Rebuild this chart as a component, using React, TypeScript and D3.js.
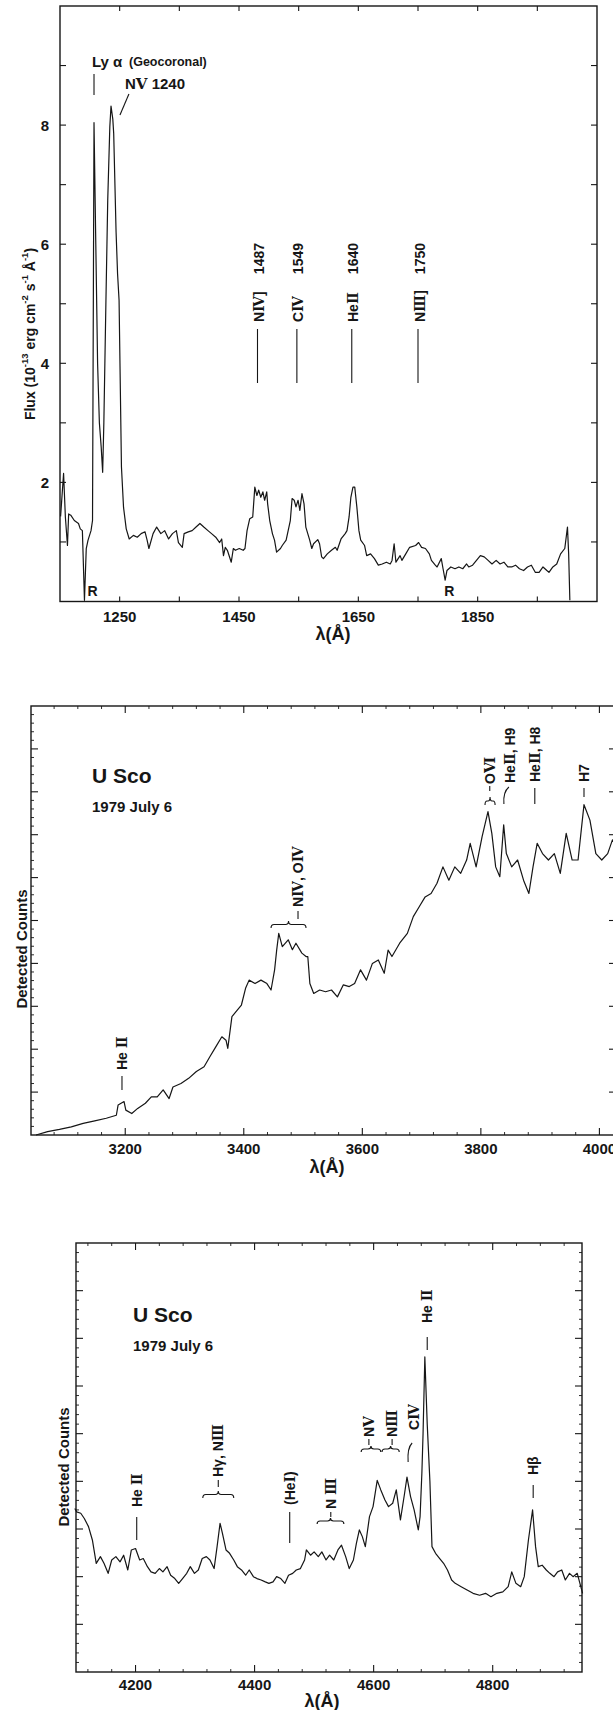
import * as d3 from "d3"

const INK = "#161616"
const SANS = "'Liberation Sans', Arial, Helvetica, sans-serif"
const SERIF = "'DejaVu Serif', serif"

// ---------- panel 1 : ultraviolet, flux in 1e-13 erg cm-2 s-1 A-1 ----------
const uvSpectrum: [number, number][] = [
  [1151, 1.43], [1156, 2.15], [1159, 1.42], [1162.5, 0.94], [1164.5, 1.47], [1168, 1.45], [1174, 1.36],
  [1181, 1.31], [1184, 1.22], [1187.5, 1.19], [1191, 0.02], [1194, 0.89], [1197, 1.03], [1202, 1.19],
  [1204.5, 1.36], [1207, 8.04], [1210, 6.0], [1213, 4.0], [1216, 3.0], [1219, 2.6], [1221.5, 2.17],
  [1223.5, 3.0], [1227, 5.06], [1230, 6.74], [1233.5, 7.97], [1235.5, 8.32], [1238.5, 8.1], [1240, 7.86],
  [1244, 6.2], [1246.5, 5.5], [1249, 5.06], [1253, 2.26], [1256.5, 1.58], [1261, 1.22], [1266, 1.05],
  [1273, 1.11], [1279.5, 1.08], [1286, 1.14], [1292.5, 1.17], [1296, 1.03], [1299, 0.89], [1306, 1.14],
  [1312, 1.25], [1319, 1.14], [1325.5, 1.19], [1332, 1.05], [1338.5, 1.14], [1345, 1.19], [1348.5, 0.99],
  [1355, 0.91], [1358, 1.14], [1365, 1.17], [1371.5, 1.19], [1378, 1.25], [1384.5, 1.31], [1391, 1.25],
  [1398, 1.19], [1404, 1.14], [1411, 1.08], [1417.5, 0.99], [1421, 1.05], [1424, 0.77], [1427, 0.91],
  [1430.5, 0.86], [1437, 0.66], [1440.5, 0.89], [1444, 0.86], [1450.5, 0.89], [1457, 0.86], [1460, 0.89],
  [1463.5, 1.19], [1468, 1.39], [1473, 1.42], [1476.5, 1.92], [1480, 1.78], [1483, 1.87], [1486.5, 1.75],
  [1490, 1.84], [1493, 1.7], [1496.5, 1.84], [1498, 1.64], [1501.5, 1.36], [1506, 1.14], [1509.5, 1.03],
  [1513, 0.83], [1519.5, 0.89], [1522.5, 0.94], [1529, 1.03], [1536, 1.36], [1539, 1.73], [1542.5, 1.7],
  [1545.5, 1.59], [1549, 1.7], [1552, 1.53], [1555.5, 1.81], [1559, 1.64], [1562, 1.25], [1568.5, 1.03],
  [1572, 0.89], [1575, 0.97], [1582, 1.04], [1585, 0.97], [1588.5, 0.75], [1591.5, 0.72], [1598, 0.8],
  [1605, 0.86], [1611.5, 0.91], [1614.5, 0.86], [1621, 1.05], [1628, 1.14], [1631, 1.19], [1634.5, 1.42],
  [1637.5, 1.75], [1641, 1.92], [1644, 1.92], [1647.5, 1.59], [1651, 1.19], [1654, 1.03], [1660.5, 0.94],
  [1664, 0.77], [1670.5, 0.8], [1677, 0.72], [1683.5, 0.61], [1690, 0.63], [1697, 0.66], [1703.5, 0.63],
  [1706.5, 0.69], [1710, 0.97], [1713, 0.66], [1720, 0.77], [1723, 0.69], [1729.5, 0.8], [1736, 0.91],
  [1746, 0.94], [1751, 0.99], [1756, 0.91], [1762.5, 0.89], [1769, 0.8], [1772.5, 0.69], [1779, 0.61],
  [1782, 0.58], [1789, 0.72], [1792, 0.55], [1795.5, 0.36], [1798.5, 0.52], [1805, 0.58], [1812, 0.55],
  [1818.5, 0.58], [1825, 0.55], [1831.5, 0.63], [1835, 0.58], [1841.5, 0.61], [1848, 0.69], [1854.5, 0.77],
  [1861, 0.75], [1867.5, 0.69], [1874, 0.63], [1881, 0.69], [1887.5, 0.63], [1894, 0.66], [1900.5, 0.58],
  [1907, 0.58], [1913.5, 0.61], [1920, 0.55], [1927, 0.52], [1933.5, 0.58], [1940, 0.61], [1946.5, 0.49],
  [1953, 0.49], [1959.5, 0.58], [1966, 0.52], [1969.5, 0.49], [1976, 0.58], [1982.5, 0.63], [1989, 0.8],
  [1996, 0.89], [2000.5, 1.25], [2002.5, 0.8], [2004.5, 0.02],
]
const uvXTicks = [1250, 1350, 1450, 1550, 1650, 1750, 1850, 1950]
const uvXLabels = [1250, 1450, 1650, 1850]
const uvYTicks = [1, 2, 3, 4, 5, 6, 7, 8, 9]
const uvYLabels = [2, 4, 6, 8]
const uvLineLam = [1481, 1547, 1639, 1750]
const uvLineName = ["NⅣ]", "CⅣ", "HeⅡ", "NⅢ]"]
const uvLineNum = ["1487", "1549", "1640", "1750"]
const uvReseau = [1201, 1799]

// ---------- panel 2 : near ultraviolet, detected counts ----------
const nuvSpectrum: [number, number][] = [
  [3049.5, 0.0], [3069, 0.08], [3089, 0.13], [3109, 0.19], [3129, 0.27], [3148.5, 0.33], [3168, 0.39],
  [3185, 0.46], [3188, 0.7], [3198, 0.78], [3201, 0.58], [3211, 0.5], [3221, 0.62], [3234, 0.74],
  [3244, 0.89], [3254, 0.89], [3264, 1.05], [3274, 0.85], [3280.5, 1.12], [3294, 1.2], [3307, 1.32],
  [3320, 1.48], [3333, 1.59], [3343, 1.83], [3353, 2.06], [3363, 2.29], [3370, 2.21], [3373, 2.02],
  [3380, 2.76], [3389, 2.91], [3396, 3.03], [3403, 3.42], [3409, 3.61], [3419, 3.53], [3429, 3.61],
  [3439, 3.53], [3446, 3.38], [3452, 3.85], [3455.5, 4.31], [3459, 4.7], [3465, 4.39], [3475, 4.55],
  [3482, 4.32], [3488, 4.47], [3498, 4.24], [3505, 4.16], [3508, 4.16], [3511.5, 3.53], [3518, 3.3],
  [3528, 3.38], [3538, 3.34], [3548, 3.38], [3558, 3.22], [3568, 3.5], [3578, 3.46], [3587, 3.53],
  [3597, 3.85], [3607, 3.61], [3617, 4.0], [3627, 4.08], [3637, 3.77], [3643.5, 4.31], [3650, 4.16],
  [3663, 4.47], [3676, 4.7], [3686, 5.09], [3696, 5.32], [3706, 5.55], [3716, 5.63], [3726, 5.87],
  [3736, 6.25], [3746, 5.94], [3756, 6.25], [3766, 6.1], [3776, 6.41], [3782, 6.8], [3792, 6.25],
  [3802, 6.95], [3812, 7.54], [3818.5, 7.03], [3825, 6.25], [3832, 6.02], [3838.5, 7.23], [3843, 6.56],
  [3852, 6.25], [3862, 6.41], [3872, 5.94], [3881, 5.63], [3888, 6.25], [3895, 6.8], [3904, 6.56],
  [3914, 6.41], [3924, 6.56], [3934, 6.1], [3944, 7.03], [3954, 6.41], [3964, 6.41], [3974, 7.7],
  [3984, 7.34], [3994, 6.56], [4004, 6.41], [4014, 6.56], [4022, 6.88], [4030, 6.7],
]
const nuvXLabels = [3200, 3400, 3600, 3800, 4000]
const nuvLineLam = [3194.5, 3491.5, 3815, 3849, 3891, 3974]
const nuvLineName = ["He Ⅱ", "NⅣ, OⅣ", "OⅥ", "HeⅡ, H9", "HeⅡ, H8", "H7"]

// ---------- panel 3 : optical, detected counts ----------
const optSpectrum: [number, number][] = [
  [4098, 3.43], [4101, 3.36], [4108, 3.33], [4114, 3.22], [4121, 3.05], [4127.5, 2.77], [4134, 2.28],
  [4141, 2.42], [4147, 2.28], [4154, 2.07], [4160, 2.35], [4167, 2.42], [4174, 2.31], [4180, 2.45],
  [4187, 2.14], [4193, 2.56], [4200, 2.59], [4207, 2.35], [4213, 2.38], [4220, 2.21], [4226, 2.1],
  [4233, 2.07], [4240, 2.17], [4246, 2.1], [4253, 2.21], [4259, 2.03], [4266, 1.96], [4272.5, 1.86],
  [4279, 1.96], [4286, 2.07], [4292, 2.21], [4299, 2.07], [4305.5, 2.14], [4312, 2.38], [4319, 2.42],
  [4325, 2.35], [4332, 2.17], [4337, 2.63], [4342, 3.12], [4346, 2.91], [4352, 2.56], [4358, 2.49],
  [4365, 2.35], [4371, 2.21], [4378, 2.14], [4385, 2.03], [4391, 2.14], [4398, 2.0], [4404, 1.96],
  [4411, 1.93], [4418, 1.89], [4424, 1.86], [4431, 1.89], [4437, 2.0], [4444, 1.96], [4451, 1.86],
  [4457, 2.03], [4464, 2.07], [4470, 2.14], [4477, 2.17], [4484, 2.35], [4487, 2.56], [4494, 2.45],
  [4500, 2.52], [4507, 2.42], [4513, 2.52], [4520, 2.35], [4526, 2.45], [4533, 2.35], [4540, 2.56],
  [4546, 2.66], [4553, 2.42], [4559, 2.17], [4566, 2.35], [4571, 2.7], [4576, 2.98], [4581, 2.84],
  [4586, 2.63], [4593, 3.26], [4599, 3.47], [4606, 4.02], [4612, 3.82], [4619, 3.61], [4625, 3.47],
  [4632, 3.54], [4638, 3.82], [4645, 3.19], [4652, 3.75], [4656, 4.09], [4662, 3.68], [4668, 3.4],
  [4675, 2.98], [4678, 3.26], [4681, 4.17], [4683, 5.0], [4686, 6.61], [4690, 5.2], [4694.5, 4.0],
  [4698, 2.63], [4704, 2.49], [4711, 2.38], [4717.5, 2.28], [4724, 2.14], [4731, 1.93], [4737, 1.86],
  [4747, 1.79], [4757, 1.72], [4767, 1.65], [4778, 1.61], [4788, 1.65], [4797, 1.58], [4807, 1.65],
  [4817, 1.68], [4826, 1.79], [4832, 2.1], [4839, 1.86], [4847, 1.79], [4853, 2.0], [4860, 2.77],
  [4867, 3.4], [4872, 2.63], [4876.5, 2.21], [4883, 2.24], [4890, 2.14], [4896, 2.07], [4903, 2.0],
  [4909, 2.1], [4916, 2.14], [4922, 1.93], [4929, 2.07], [4935, 2.0], [4942, 2.07], [4948, 1.79],
  [4951, 1.65],
]
const optXLabels = [4200, 4400, 4600, 4800]
const optLineLam = [4202, 4339, 4459, 4528, 4592, 4631, 4668, 4690, 4868]
const optLineName = ["He Ⅱ", "Hγ, NⅢ", "(HeⅠ)", "N Ⅲ", "NⅤ", "NⅢ", "CⅣ", "He Ⅱ", "Hβ"]

const ROMAN = /([\u2160-\u216F]+)/
function rn(s: string) {
  return s.split(ROMAN).map((p, i) =>
    /[\u2160-\u216F]/.test(p) ? <tspan key={i} fontFamily={SERIF}>{p}</tspan> : <tspan key={i}>{p}</tspan>
  )
}

function VText({ x, y, text, size = 14, anchor = "start" }: any) {
  return (
    <text transform={`translate(${x},${y}) rotate(-90)`} textAnchor={anchor} dominantBaseline="central"
      fontSize={size} fontWeight="bold" fill={INK}>{rn(text)}</text>
  )
}

function brace(x1: number, x2: number, y: number, h: number) {
  const m = (x1 + x2) / 2
  const c = Math.min(3, (x2 - x1) / 5)
  return `M${x1},${y} Q${x1},${y - h / 2} ${x1 + c},${y - h / 2} L${m - c},${y - h / 2} Q${m},${y - h / 2} ${m},${y - h}` +
    ` Q${m},${y - h / 2} ${m + c},${y - h / 2} L${x2 - c},${y - h / 2} Q${x2},${y - h / 2} ${x2},${y}`
}

function Frame({ x, y, xMajor, xMinor = [], yMajor, yMinor = [], xLen, yLen, minLen = 3 }: any) {
  const [l, r] = x.range()
  const [b, t] = y.range()
  return (
    <g stroke={INK} fill="none">
      <rect x={l} y={t} width={r - l} height={b - t} strokeWidth={1.4} />
      {xMinor.map((v: number) => (
        <g key={"xm" + v} strokeWidth={0.9}>
          <line x1={x(v)} x2={x(v)} y1={b} y2={b - minLen} />
          <line x1={x(v)} x2={x(v)} y1={t} y2={t + minLen} />
        </g>
      ))}
      {xMajor.map((v: number) => (
        <g key={"xM" + v} strokeWidth={1.1}>
          <line x1={x(v)} x2={x(v)} y1={b} y2={b - xLen} />
          <line x1={x(v)} x2={x(v)} y1={t} y2={t + xLen} />
        </g>
      ))}
      {yMinor.map((v: number) => (
        <g key={"ym" + v} strokeWidth={0.9}>
          <line x1={l} x2={l + minLen} y1={y(v)} y2={y(v)} />
          <line x1={r} x2={r - minLen} y1={y(v)} y2={y(v)} />
        </g>
      ))}
      {yMajor.map((v: number) => (
        <g key={"yM" + v} strokeWidth={1.1}>
          <line x1={l} x2={l + yLen} y1={y(v)} y2={y(v)} />
          <line x1={r} x2={r - yLen} y1={y(v)} y2={y(v)} />
        </g>
      ))}
    </g>
  )
}

function Title({ x, y }: { x: number; y: number }) {
  return (
    <g fill={INK} fontWeight="bold">
      <text x={x} y={y} fontSize={21}>U Sco</text>
      <text x={x} y={y + 29} fontSize={15}>1979 July 6</text>
    </g>
  )
}

function spectrumPath(x: any, y: any, pts: [number, number][]) {
  return d3.line<[number, number]>().x((d) => x(d[0])).y((d) => y(d[1]))(pts) || ""
}

function UvPanel() {
  const x = d3.scaleLinear().domain([1150, 2050]).range([60, 597])
  const y = d3.scaleLinear().domain([0, 10]).range([601.5, 6])
  const b = y(0)
  return (
    <g>
      <Frame x={x} y={y} xMajor={uvXTicks} yMajor={uvYTicks} xLen={5} yLen={6} />
      <path d={spectrumPath(x, y, uvSpectrum)} fill="none" stroke={INK} strokeWidth={1.2} strokeLinejoin="round" />
      {uvXLabels.map((v) => (
        <text key={v} x={x(v)} y={b + 20} textAnchor="middle" fontSize={15} fontWeight="bold" fill={INK}>{v}</text>
      ))}
      {uvYLabels.map((v) => (
        <text key={v} x={49} y={y(v)} dominantBaseline="central" textAnchor="end" fontSize={15} fontWeight="bold" fill={INK}>{v}</text>
      ))}
      <text x={333} y={640} textAnchor="middle" fontSize={18} fontWeight="bold" fill={INK}>λ(Å)</text>
      <text transform="translate(30,334) rotate(-90)" textAnchor="middle" dominantBaseline="central" fontSize={14} fontWeight="bold" fill={INK}>
        Flux (10<tspan fontSize={9.5} dy={-6}>-13</tspan><tspan dy={6}> erg cm</tspan>
        <tspan fontSize={9.5} dy={-6}>-2</tspan><tspan dy={6}> s</tspan>
        <tspan fontSize={9.5} dy={-6}>-1</tspan><tspan dy={6}> Å</tspan>
        <tspan fontSize={9.5} dy={-6}>-1</tspan><tspan dy={6}>)</tspan>
      </text>
      {/* line identifications */}
      <g fill={INK} fontWeight="bold">
        <text x={92} y={67} fontSize={15}>Ly α</text>
        <text x={129} y={66} fontSize={12.5}>(Geocoronal)</text>
        <text x={125} y={89} fontSize={15}>N<tspan fontFamily={SERIF}>Ⅴ</tspan> 1240</text>
      </g>
      <line x1={x(1207)} x2={x(1207)} y1={74} y2={95} stroke={INK} strokeWidth={1.1} />
      <line x1={x(1265.5)} y1={94} x2={x(1250.5)} y2={115} stroke={INK} strokeWidth={1.1} />
      {uvLineLam.map((lam, i) => (
        <g key={lam}>
          <line x1={x(lam)} x2={x(lam)} y1={329} y2={383} stroke={INK} strokeWidth={1.1} />
          <VText x={x(lam) + 1.5} y={322} text={uvLineName[i]} />
          <VText x={x(lam) + 1.5} y={243} text={uvLineNum[i]} anchor="end" />
        </g>
      ))}
      {uvReseau.map((lam) => (
        <text key={lam} x={x(lam) - 3} y={596} fontSize={14} fontWeight="bold" fill={INK}>R</text>
      ))}
    </g>
  )
}

function NuvPanel() {
  const x = d3.scaleLinear().domain([3041, 4028]).range([31, 616])
  const y = d3.scaleLinear().domain([0, 10]).range([1135, 706])
  const b = y(0)
  const xMajor = [3200, 3400, 3600, 3800, 4000]
  const xMinor = [3080, 3120, 3160, 3240, 3280, 3320, 3360, 3440, 3480, 3520, 3560, 3640, 3680, 3720, 3760, 3840, 3880, 3920, 3960]
  const yMajor = [1, 2, 3, 4, 5, 6, 7, 8, 9]
  const yMinor = d3.range(0.2, 10, 0.2).filter((v) => Math.abs(v - Math.round(v)) > 0.01)
  const X = nuvLineLam.map((l) => x(l))
  return (
    <g>
      <Frame x={x} y={y} xMajor={xMajor} xMinor={xMinor} yMajor={yMajor} yMinor={yMinor} xLen={7} yLen={7} />
      <path d={spectrumPath(x, y, nuvSpectrum)} fill="none" stroke={INK} strokeWidth={1.2} strokeLinejoin="round" />
      {nuvXLabels.map((v) => (
        <text key={v} x={x(v)} y={b + 19} textAnchor="middle" fontSize={15} fontWeight="bold" fill={INK}>{v}</text>
      ))}
      <text x={327} y={1173} textAnchor="middle" fontSize={18} fontWeight="bold" fill={INK}>λ(Å)</text>
      <VText x={21} y={949} text="Detected Counts" size={15} anchor="middle" />
      <Title x={92} y={783} />
      <g stroke={INK} strokeWidth={1.1} fill="none">
        <line x1={X[0]} x2={X[0]} y1={1076} y2={1090} />
        <line x1={X[1]} x2={X[1]} y1={911} y2={919} />
        <path d={brace(x(3446), x(3505), 928, 7)} />
        <line x1={X[2]} x2={X[2]} y1={786} y2={791} />
        <path d={brace(x(3807), x(3824), 805, 8)} />
        <path d={`M${X[3] - 1},787 Q${X[3] - 7},792 ${X[3] - 6},804`} />
        <line x1={X[4]} x2={X[4]} y1={788} y2={804} />
        <line x1={X[5]} x2={X[5]} y1={788} y2={797} />
      </g>
      <VText x={X[0]} y={1070} text={nuvLineName[0]} />
      <VText x={X[1]} y={907} text={nuvLineName[1]} />
      <VText x={X[2]} y={784} text={nuvLineName[2]} />
      <VText x={X[3]} y={783} text={nuvLineName[3]} />
      <VText x={X[4]} y={782} text={nuvLineName[4]} />
      <VText x={X[5]} y={782} text={nuvLineName[5]} />
    </g>
  )
}

function OptPanel() {
  const x = d3.scaleLinear().domain([4100, 4950]).range([76, 582])
  const y = d3.scaleLinear().domain([0, 9]).range([1672, 1243])
  const b = y(0)
  const xMajor = [4200, 4400, 4600, 4800]
  const xMinor = [4120, 4160, 4240, 4280, 4320, 4360, 4440, 4480, 4520, 4560, 4640, 4680, 4720, 4760, 4840, 4880, 4920]
  const yMajor = [1, 2, 3, 4, 5, 6, 7, 8]
  const yMinor = d3.range(0.2, 9, 0.2).filter((v) => Math.abs(v - Math.round(v)) > 0.01)
  const X = optLineLam.map((l) => x(l))
  const textBottom = [1507, 1477, 1505, 1509, 1437, 1437, 1430, 1323, 1475]
  return (
    <g>
      <Frame x={x} y={y} xMajor={xMajor} xMinor={xMinor} yMajor={yMajor} yMinor={yMinor} xLen={7} yLen={7} />
      <path d={spectrumPath(x, y, optSpectrum)} fill="none" stroke={INK} strokeWidth={1.2} strokeLinejoin="round" />
      {optXLabels.map((v) => (
        <text key={v} x={x(v)} y={b + 18} textAnchor="middle" fontSize={15} fontWeight="bold" fill={INK}>{v}</text>
      ))}
      <text x={322} y={1707} textAnchor="middle" fontSize={18} fontWeight="bold" fill={INK}>λ(Å)</text>
      <VText x={63} y={1467} text="Detected Counts" size={15} anchor="middle" />
      <Title x={133} y={1322} />
      <g stroke={INK} strokeWidth={1.1} fill="none">
        <line x1={X[0]} x2={X[0]} y1={1517} y2={1540} />
        <line x1={X[1]} x2={X[1]} y1={1480} y2={1487} />
        <path d={brace(x(4313), x(4365), 1498, 7)} />
        <line x1={X[2]} x2={X[2]} y1={1512} y2={1543} />
        <line x1={X[3]} x2={X[3]} y1={1512} y2={1517} />
        <path d={brace(x(4505), x(4550), 1524, 6)} />
        <line x1={X[4]} x2={X[4]} y1={1439} y2={1445} />
        <path d={brace(x(4579), x(4612), 1452, 6)} />
        <line x1={X[5]} x2={X[5]} y1={1439} y2={1445} />
        <path d={brace(x(4614), x(4643), 1452, 6)} />
        <path d={`M${X[6] - 2},1443 Q${X[6] - 7},1448 ${X[6] - 6},1462`} />
        <line x1={X[7]} x2={X[7]} y1={1337} y2={1350} />
        <line x1={X[8]} x2={X[8]} y1={1485} y2={1498} />
      </g>
      {optLineName.map((n, i) => (
        <VText key={i} x={X[i]} y={textBottom[i]} text={n} />
      ))}
    </g>
  )
}

export default function App() {
  return (
    <svg width={613} height={1710} viewBox="0 0 613 1710"
      style={{ position: "absolute", left: 0, top: 0, background: "#fff", fontFamily: SANS }}>
      <rect width={613} height={1710} fill="#fff" />
      <UvPanel />
      <NuvPanel />
      <OptPanel />
    </svg>
  )
}
